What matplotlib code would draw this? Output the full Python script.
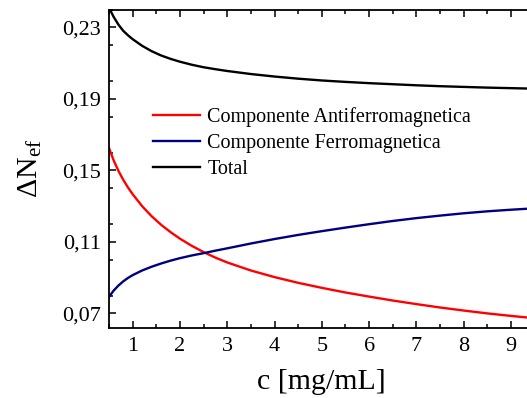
import matplotlib
matplotlib.use("Agg")
import matplotlib.pyplot as plt
from matplotlib.ticker import MultipleLocator, FuncFormatter

plt.rcParams['font.family'] = ['Liberation Serif', 'DejaVu Serif']
plt.rcParams['mathtext.fontset'] = 'custom'
plt.rcParams['mathtext.rm'] = 'Liberation Serif'
plt.rcParams['mathtext.it'] = 'Liberation Serif:italic'

# concentration c [mg/mL]
conc = [0.5, 0.6, 0.7, 0.8, 0.9, 1.0, 1.2, 1.4, 1.6, 1.8, 2.0, 2.25, 2.5,
        2.75, 3.0, 3.5, 4.0, 4.5, 5.0, 5.5, 6.0, 6.5, 7.0, 7.5, 8.0, 8.5,
        9.0, 9.5]
antiferro = [0.1625, 0.1555, 0.1497, 0.1448, 0.1405, 0.1367, 0.1300, 0.1244,
             0.1196, 0.1155, 0.1118, 0.1078, 0.1043, 0.1012, 0.0985, 0.0940,
             0.0903, 0.0871, 0.0843, 0.0817, 0.0794, 0.0772, 0.0752, 0.0733,
             0.0716, 0.0700, 0.0686, 0.0673]
ferro = [0.0793, 0.0828, 0.0856, 0.0879, 0.0898, 0.0914, 0.0940, 0.0961,
         0.0979, 0.0995, 0.1009, 0.1024, 0.1037, 0.1051, 0.1064, 0.1091,
         0.1116, 0.1139, 0.1160, 0.1180, 0.1199, 0.1217, 0.1233, 0.1247,
         0.1260, 0.1271, 0.1280, 0.1288]
total = [0.2410, 0.2358, 0.2315, 0.2281, 0.2256, 0.2234, 0.2197, 0.2167,
         0.2143, 0.2124, 0.2108, 0.2091, 0.2077, 0.2066, 0.2056, 0.2039,
         0.2025, 0.2013, 0.2003, 0.1995, 0.1988, 0.1982, 0.1976, 0.1971,
         0.1967, 0.1963, 0.1960, 0.1957]

labels = ['Componente Antiferromagnetica', 'Componente Ferromagnetica', 'Total']
colors = ['#ff0000', '#000080', '#000000']

fig = plt.figure(figsize=(5.27, 3.98), dpi=100)
ax = fig.add_axes([109 / 527, 70.3 / 398, 425.6 / 527, 318.2 / 398])

for y, lab, col in zip([antiferro, ferro, total], labels, colors):
    ax.plot(conc, y, color=col, lw=1.7, label=lab)

ax.set_xlim(0.5, 9.5)
ax.set_ylim(0.062, 0.240)
ax.xaxis.set_major_locator(MultipleLocator(1))
ax.xaxis.set_minor_locator(MultipleLocator(0.5))
ax.yaxis.set_minor_locator(MultipleLocator(0.02))
ax.set_yticks([0.07, 0.11, 0.15, 0.19, 0.23])
ax.yaxis.set_major_formatter(FuncFormatter(lambda v, p: f"{v:.2f}".replace('.', ',')))

ax.tick_params(which='both', direction='in', top=True, right=True,
               labelsize=16, width=1.1)
ax.tick_params(axis='y', pad=6)
ax.tick_params(axis='x', pad=7)
ax.tick_params(which='major', length=5)
ax.tick_params(which='minor', length=3)
for s in ax.spines.values():
    s.set_linewidth(1.3)

ax.set_xlabel('c [mg/mL]', fontsize=21.5, labelpad=9)
ax.set_ylabel(r'$\Delta\mathrm{N}_{\mathrm{ef}}$', fontsize=21.5, labelpad=13)

ax.legend(loc='center left', bbox_to_anchor=(153 / 527, 1 - 143 / 398),
          bbox_transform=fig.transFigure, frameon=False, fontsize=14.5,
          handlelength=2.35, handletextpad=0.35, labelspacing=0.33,
          borderpad=0, borderaxespad=0)

fig.savefig('out.png', dpi=100)
